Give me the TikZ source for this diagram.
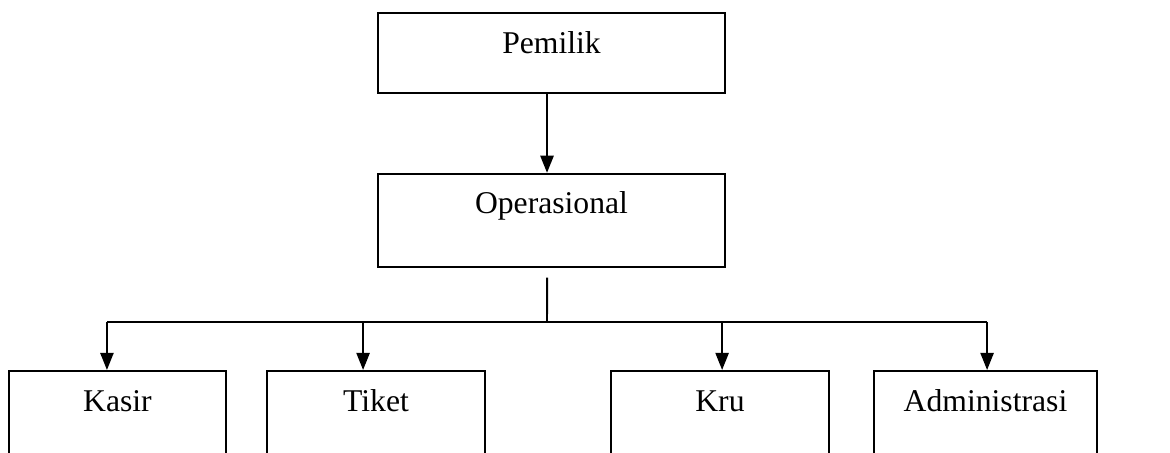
\documentclass[tikz,border=0pt]{standalone}
\usepackage{fontspec}
\setmainfont{Liberation Serif}
\usetikzlibrary{positioning,arrows.meta}

\begin{document}
\begin{tikzpicture}[x=0.379pt,y=-0.379pt,line width=0.75pt,
        >={Triangle[length=6.5pt,width=5pt]},
        unit/.style={draw,rectangle,inner sep=0pt,font=\fontsize{12}{14}\selectfont,
            text height=15.2pt},
        head/.style={unit,minimum width=131.5pt},
        staff/.style={unit,anchor=north,minimum width=82.5pt,text depth=20pt}]
        \useasboundingbox (0,0) rectangle (1170,453);
        \clip (0,0) rectangle (1170,453);

        \node[head,text depth=15.1pt] (pemilik) at (551.5,53) {Pemilik};
        \node[head,text depth=20pt] (ops) [below=29.9pt of pemilik] {Operasional};
        \node[staff,minimum width=82.2pt] (kasir) at (117.5,370) {Kasir};
        \node[staff] (tiket) at (376,370) {Tiket};
        \node[staff] (kru) at (720,370) {Kru};
        \node[staff,minimum width=84.5pt] (admin) at (985.5,370) {Administrasi};

        \draw[->] ([xshift=-1.7pt]pemilik.south) -- ([xshift=-1.7pt]ops.north);
        \coordinate (bus) at (547,322);
        \draw ([xshift=-1.7pt,yshift=-3.8pt]ops.south) -- (bus);
        \coordinate (kasirtop) at ([xshift=-4.0pt]kasir.north);
        \coordinate (tikettop) at ([xshift=-4.9pt]tiket.north);
        \coordinate (krutop) at ([xshift=0.8pt]kru.north);
        \coordinate (admintop) at ([xshift=0.6pt]admin.north);
        \draw (kasirtop |- bus) -- (admintop |- bus);
        \foreach \n in {kasir,tiket,kru,admin}
            \draw[->] (\n top |- bus) -- (\n top);
    \end{tikzpicture}
\end{document}
